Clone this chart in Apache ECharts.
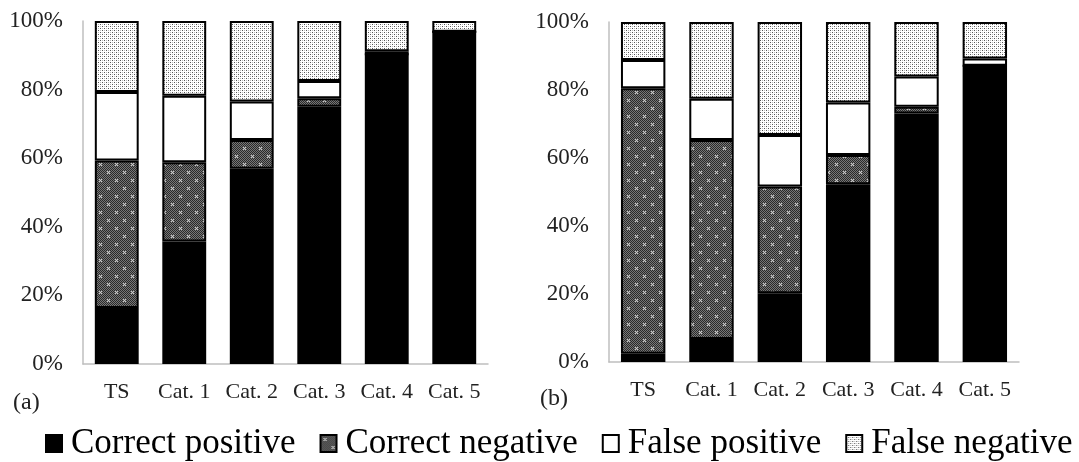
<!DOCTYPE html>
<html>
<head>
<meta charset="utf-8">
<script src="https://cdn.jsdelivr.net/npm/echarts@6/dist/echarts.min.js"></script>
<style>html,body{margin:0;padding:0;background:#fff;}#c{width:1079px;height:462px;}</style>
</head>
<body>
<div id="c"></div>
<script>
const categories = ['TS', 'Cat. 1', 'Cat. 2', 'Cat. 3', 'Cat. 4', 'Cat. 5'];
const yTicks = [0, 20, 40, 60, 80, 100];
const seriesNames = ['Correct positive', 'Correct negative', 'False positive', 'False negative'];
// Panel (a)
const aCorrectPositive = [16.3, 35.7, 56.9, 75.0, 90.3, 96.9];
const aCorrectNegative = [43.0, 23.1, 8.4, 2.5, 0, 0];
const aFalsePositive   = [20.0, 19.4, 11.2, 5.0, 0.9, 0];
const aFalseNegative   = [20.7, 21.8, 23.5, 17.5, 8.8, 3.1];
// Panel (b)
const bCorrectPositive = [2.4, 6.8, 20.2, 52.3, 73.1, 87.1];
const bCorrectNegative = [78.1, 58.5, 31.4, 8.6, 2.0, 0];
const bFalsePositive   = [8.3, 12.1, 15.2, 15.4, 8.9, 2.2];
const bFalseNegative   = [11.2, 22.6, 33.2, 23.7, 16.0, 10.7];

function makePattern(kind) {
  const c = document.createElement('canvas');
  if (kind === 'cn') {
    c.width = 16; c.height = 16;
    const g = c.getContext('2d');
    for (let y = 0; y < 16; y++) for (let x = 0; x < 16; x++) {
      g.fillStyle = ((x + y) % 2 === 0) ? '#2a2a2a' : '#777777';
      g.fillRect(x, y, 1, 1);
    }
    const cross = (cx, cy, col) => {
      g.fillStyle = col;
      [[0,0],[1,1],[-1,-1],[1,-1],[-1,1]].forEach(d => g.fillRect(cx + d[0], cy + d[1], 1, 1));
    };
    cross(4, 4, '#c8c8c8'); cross(12, 12, '#c8c8c8');
  } else {
    c.width = 4; c.height = 4;
    const g = c.getContext('2d');
    g.fillStyle = '#ffffff'; g.fillRect(0, 0, 4, 4);
    g.fillStyle = '#555555';
    g.fillRect(0, 0, 1, 1); g.fillRect(2, 2, 1, 1);
    g.fillStyle = '#bbbbbb';
    g.fillRect(2, 0, 1, 1); g.fillRect(0, 2, 1, 1);
  }
  return { image: c, repeat: 'repeat' };
}
const colors = ['#000000', makePattern('cn'), '#ffffff', makePattern('fn')];

const font = "'Liberation Serif', 'Times New Roman', serif";
const grids = [
  { left: 83, top: 21, width: 405, height: 343 },
  { left: 609, top: 22, width: 410, height: 340 }
];
const axisLine = { show: true, lineStyle: { color: '#bfbfbf', width: 1.5 } };
const xAxes = grids.map((g, i) => ({
  type: 'category', gridIndex: i, data: categories,
  axisLine: axisLine, axisTick: { show: false },
  axisLabel: { color: '#222', fontFamily: font, fontSize: 22, margin: 17, interval: 0, hideOverlap: false }
}));
const yAxes = grids.map((g, i) => ({
  type: 'value', gridIndex: i, min: yTicks[0], max: yTicks[yTicks.length - 1], interval: 20,
  axisLine: axisLine, axisTick: { show: false }, splitLine: { show: false },
  axisLabel: { color: '#222', fontFamily: font, fontSize: 23, margin: 20, formatter: '{value}%' }
}));
const panelData = [
  [aCorrectPositive, aCorrectNegative, aFalsePositive, aFalseNegative],
  [bCorrectPositive, bCorrectNegative, bFalsePositive, bFalseNegative]
];
const series = [];
panelData.forEach((arrs, p) => {
  arrs.forEach((arr, k) => {
    series.push({
      type: 'bar', name: seriesNames[k], stack: 'p' + p,
      xAxisIndex: p, yAxisIndex: p, barWidth: '65%',
      data: arr,
      itemStyle: { color: colors[k], borderColor: '#000', borderWidth: 2 },
      emphasis: { disabled: true }
    });
  });
});

const chart = echarts.init(document.getElementById('c'), null, { renderer: 'canvas' });
chart.setOption({
  animation: false,
  backgroundColor: '#fff',
  grid: grids,
  xAxis: xAxes,
  yAxis: yAxes,
  series: series,
  legend: {
    data: seriesNames, left: 40, top: 421, width: 1100, padding: 5,
    icon: 'rect', itemWidth: 16, itemHeight: 17, itemGap: 24,
    textStyle: { fontFamily: font, fontSize: 35, color: '#000', padding: [0, 0, 0, 4] },
    selectedMode: false
  },
  graphic: [
    { type: 'text', left: 13, top: 391, style: { text: '(a)', font: "24px 'Liberation Serif', serif", fill: '#222' } },
    { type: 'text', left: 540, top: 387, style: { text: '(b)', font: "24px 'Liberation Serif', serif", fill: '#222' } }
  ]
});
</script>
</body>
</html>
